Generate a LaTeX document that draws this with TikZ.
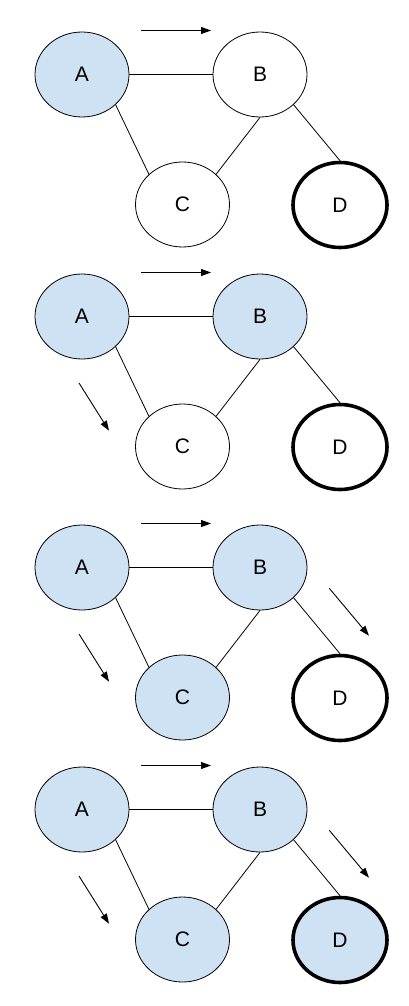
\documentclass[tikz,border=0pt]{standalone}
\usepackage{fontspec}
\setmainfont{Liberation Sans}
\usetikzlibrary{arrows.meta,shapes.geometric}
\definecolor{lblue}{HTML}{CFE2F3}
\tikzset{
  state/.style={ellipse, draw=black, line width=0.8pt, fill=white, minimum width=94pt, minimum height=85pt, inner sep=0pt, font=\fontsize{21}{24}\selectfont},
  seen/.style={fill=lblue},
  plain/.style={},
  goal/.style={line width=3.6pt},
  edgeline/.style={line width=0.8pt},
  move/.style={line width=0.9pt, -{Triangle[length=10pt,width=7pt]}},
}
\newcommand\graphbody[4]{%
  \node[state,#1] (A) at (82,74.5) {A};
  \node[state,#2] (B) at (260,74.5) {B};
  \node[state,#3] (C) at (182.5,204.5) {C};
  \node[state,goal,#4] (D) at (340,205) {D};
  \draw[edgeline] (A) -- (B);
  \draw[edgeline] (A.-42) -- (C.138);
  \draw[edgeline] (B.south) -- (C.42);
  \draw[edgeline] (B.-42) -- (D.north);
  \coordinate (h1) at (141,30.5);
  \coordinate (h2) at (211,30.5);
  \draw[move] (h1) -- (h2);
}
\newcommand\arrowAC{%
  \coordinate (ac1) at (79,141);
  \coordinate (ac2) at (109,188.7);
  \draw[move] (ac1) -- (ac2);
}
\newcommand\arrowBD{%
  \coordinate (bd1) at (329.3,95.3);
  \coordinate (bd2) at (369,142.7);
  \draw[move] (bd1) -- (bd2);
}
\begin{document}
\begin{tikzpicture}[x=1pt,y=-1pt]
  \useasboundingbox[fill=white] (0,0) rectangle (408,1006);
  \begin{scope}[name prefix=p1-]
    \graphbody{seen}{plain}{plain}{plain}
  \end{scope}
  \begin{scope}[shift={(0,242)}, name prefix=p2-]
    \graphbody{seen}{seen}{plain}{plain}
    \arrowAC
  \end{scope}
  \begin{scope}[shift={(0,493)}, name prefix=p3-]
    \graphbody{seen}{seen}{seen}{plain}
    \arrowAC
    \arrowBD
  \end{scope}
  \begin{scope}[shift={(0,735)}, name prefix=p4-]
    \graphbody{seen}{seen}{seen}{seen}
    \arrowAC
    \arrowBD
  \end{scope}
\end{tikzpicture}
\end{document}
